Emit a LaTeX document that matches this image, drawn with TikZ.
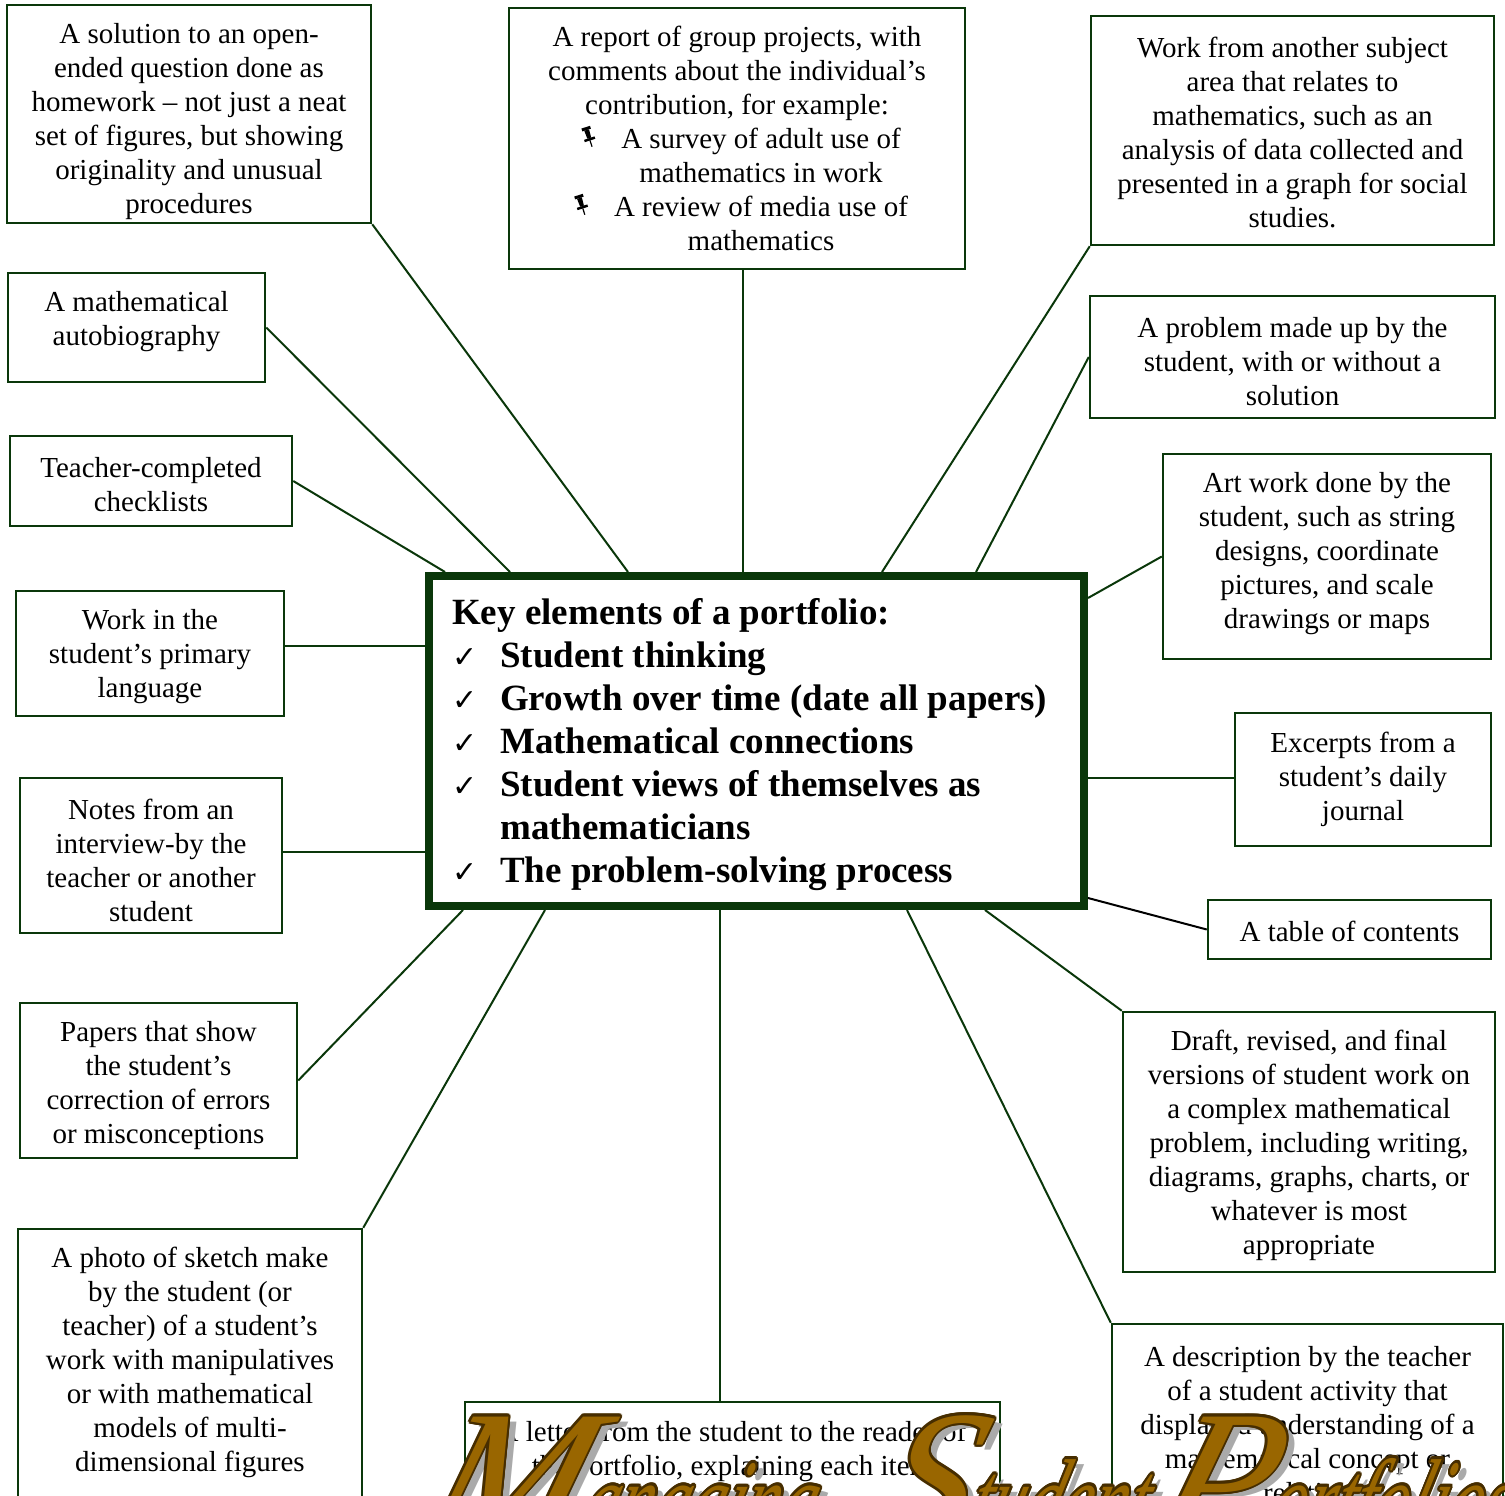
\documentclass[tikz,border=0pt]{standalone}
\usepackage{fontspec}
\setmainfont{Liberation Serif}
\newfontfamily\djv{DejaVu Sans}
\usepackage[copies]{contour}
\usepackage{graphicx}
\usetikzlibrary{calc}
\definecolor{dgreen}{RGB}{10,55,10}
\definecolor{brownF}{RGB}{153,102,0}
\definecolor{brownD}{RGB}{70,45,0}
\definecolor{shadowG}{RGB}{170,170,170}
\newcommand{\pinmark}{\tikz[baseline=0pt,x=1pt,y=1pt,rotate=18]{%
  \fill (0,17.5) rectangle (9,20.5);
  \fill (2,17.5) -- (7,17.5) -- (6.5,9) -- (2.5,9) -- cycle;
  \fill (-1,9) rectangle (10,6.5);
  \draw[line width=1.2pt] (4.5,6.5) -- (4.5,0);}}
\newcommand{\ckmark}{\makebox[48pt][l]{\djv\fontsize{30}{30}\selectfont ✓}}
\newcommand{\pinline}[1]{\hspace*{48pt}\llap{\pinmark\hspace{26pt}}#1}
\newcommand{\ttlword}[2]{{\fontsize{190}{190}\selectfont #1}{\fontsize{118}{118}\selectfont\scalebox{0.6}[1]{#2}}}
\contourlength{2.2pt}
\begin{document}
\begin{tikzpicture}[x=1pt,y=-1pt,
  boxs/.style={draw=dgreen, line width=2.5pt, rectangle, inner sep=0pt},
  txt/.style={align=center, font=\fontsize{29}{34}\selectfont, inner sep=0pt, anchor=center},
  conn/.style={draw=dgreen, line width=2pt},
  ttl/.style={inner sep=0pt, anchor=base west, font=\itshape, xslant=0.3, transform shape},
]
\useasboundingbox (0,0) rectangle (1505,1496);

% ---- boxes
\node[boxs, minimum width=364, minimum height=218] (b1) at (189,114) {};
\node[boxs, minimum width=257, minimum height=109] (b2) at (136.5,327.5) {};
\node[boxs, minimum width=282, minimum height=90] (b3) at (151,481) {};
\node[boxs, minimum width=268, minimum height=125] (b4) at (150,653.5) {};
\node[boxs, minimum width=262, minimum height=155] (b5) at (151,855.5) {};
\node[boxs, minimum width=277, minimum height=155] (b6) at (158.5,1080.5) {};
\node[boxs, minimum width=344, minimum height=311] (b7) at (190,1384.5) {};
\node[boxs, minimum width=456, minimum height=261] (b8) at (737,138.5) {};
\node[boxs, minimum width=403, minimum height=229] (b9) at (1292.5,130.5) {};
\node[boxs, minimum width=405, minimum height=122] (b10) at (1292.5,357) {};
\node[boxs, minimum width=328, minimum height=205] (b11) at (1327,556.5) {};
\node[boxs, minimum width=256, minimum height=133] (b12) at (1363,779.5) {};
\node[boxs, minimum width=283, minimum height=59] (b13) at (1349.5,929.5) {};
\node[boxs, minimum width=372, minimum height=260] (b14) at (1309,1142) {};
\node[boxs, minimum width=391, minimum height=216] (b15) at (1307.5,1432) {};
\node[boxs, minimum width=535, minimum height=138] (b16) at (732.5,1471) {};

% ---- central box
\node[draw=dgreen, line width=7pt, minimum width=656, minimum height=331, inner sep=0pt] (key) at (756.5,741) {};
\draw[dgreen, line width=1.8pt] ($(key.north west)+(7.5,7.5)$) rectangle ($(key.south east)+(-7.5,-7.5)$);

% ---- attachment points on the central box
\coordinate (k1) at (628,572);
\coordinate (k2) at (510,572);
\coordinate (k3) at (445,572);
\coordinate (k4) at (425,646);
\coordinate (k5) at (425,852);
\coordinate (k6) at (463,910);
\coordinate (k7) at (545,910);
\coordinate (k8) at (743,572);
\coordinate (k9) at (882,572);
\coordinate (k10) at (976,572);
\coordinate (k11) at (1088,598);
\coordinate (k12) at (1088,778);
\coordinate (k13) at (1088,898);
\coordinate (k14) at (985,910);
\coordinate (k15) at (907,910);
\coordinate (k16) at (720,910);

% ---- connectors
\draw[conn] (b1.south east) -- (k1);
\draw[conn] (b2.east) -- (k2);
\draw[conn] (b3.east) -- (k3);
\draw[conn] (b4.east |- k4) -- (k4);
\draw[conn] (b5.east |- k5) -- (k5);
\draw[conn] (b6.east) -- (k6);
\draw[conn] (b7.north east) -- (k7);
\draw[conn] (k8 |- b8.south) -- (k8);
\draw[conn] (b9.south west) -- (k9);
\draw[conn] (b10.west) -- (k10);
\draw[conn] (b11.west) -- (k11);
\draw[conn] (b12.west |- k12) -- (k12);
\draw[black, line width=2pt] (b13.west) -- (k13);
\draw[conn] (b14.north west) -- (k14);
\draw[conn] (b15.north west) -- (k15);
\draw[conn] (k16 |- b16.north) -- (k16);

% ---- texts
\node[txt] (t1) at (189,121.5) {A solution to an open-\\ended question done as\\homework -- not just a neat\\set of figures, but showing\\originality and unusual\\procedures};
\node[txt] (t2) at (136.5,322) {A mathematical\\autobiography};
\node[txt] (t3) at (151,485) {Teacher-completed\\checklists};
\node[txt] (t4) at (150,657) {Work in the\\student’s primary\\language};
\node[txt] (t5) at (151,860.5) {Notes from an\\interview-by the\\teacher or another\\student};
\node[txt] (t6) at (158.5,1085.5) {Papers that show\\the student’s\\correction of errors\\or misconceptions};
\node[txt] (t7) at (190,1362.5) {A photo of sketch make\\by the student (or\\teacher) of a student’s\\work with manipulatives\\or with mathematical\\models of multi-\\dimensional figures};
\node[txt] (t8) at (737,138) {A report of group projects, with\\comments about the individual’s\\contribution, for example:\\\pinline{A survey of adult use of}\\\hspace*{48pt}mathematics in work\\\pinline{A review of media use of}\\\hspace*{48pt}mathematics};
\node[txt] (t9) at (1292.5,132.5) {Work from another subject\\area that relates to\\mathematics, such as an\\analysis of data collected and\\presented in a graph for social\\studies.};
\node[txt] (t10) at (1292.5,361.5) {A problem made up by the\\student, with or without a\\solution};
\node[txt] (t11) at (1327,553.5) {Art work done by the\\student, such as string\\designs, coordinate\\pictures, and scale\\drawings or maps};
\node[txt] (t12) at (1363,779) {Excerpts from a\\student’s daily\\journal};
\node[txt] (t13) at (1349.5,931) {A table of contents};
\node[txt] (t14) at (1309,1145.5) {Draft, revised, and final\\versions of student work on\\a complex mathematical\\problem, including writing,\\diagrams, graphs, charts, or\\whatever is most\\appropriate};
\node[txt] (t15) at (1307.5,1424.5) {A description by the teacher\\of a student activity that\\displayed understanding of a\\mathematical concept or\\relation};
\node[txt] (t16) at (732,1451) {A letter from the student to the reader of\\the portfolio, explaining each item};

\node[inner sep=0pt, anchor=west, align=left, font=\fontsize{37}{43}\selectfont\bfseries] (keyt) at (452,744.5)
 {Key elements of a portfolio:\\
  \ckmark Student thinking\\
  \ckmark Growth over time (date all papers)\\
  \ckmark Mathematical connections\\
  \ckmark Student views of themselves as\\
  \hspace*{48pt}mathematicians\\
  \ckmark The problem-solving process};

% ---- decorative title (cut by the page edge)
\node[ttl, text=shadowG] (tMs) at (424,1546) {\ttlword{M}{anaging}};
\node[ttl, text=shadowG] (tSs) at (874,1546) {\ttlword{S}{tudent}};
\node[ttl, text=shadowG] (tPs) at (1154,1546) {\ttlword{P}{ortfolios}};
\node[ttl] (tM) at (416,1541) {\color{brownF}\contour{brownD}{\ttlword{M}{anaging}}};
\node[ttl] (tS) at (866,1541) {\color{brownF}\contour{brownD}{\ttlword{S}{tudent}}};
\node[ttl] (tP) at (1146,1541) {\color{brownF}\contour{brownD}{\ttlword{P}{ortfolios}}};
\end{tikzpicture}
\end{document}
